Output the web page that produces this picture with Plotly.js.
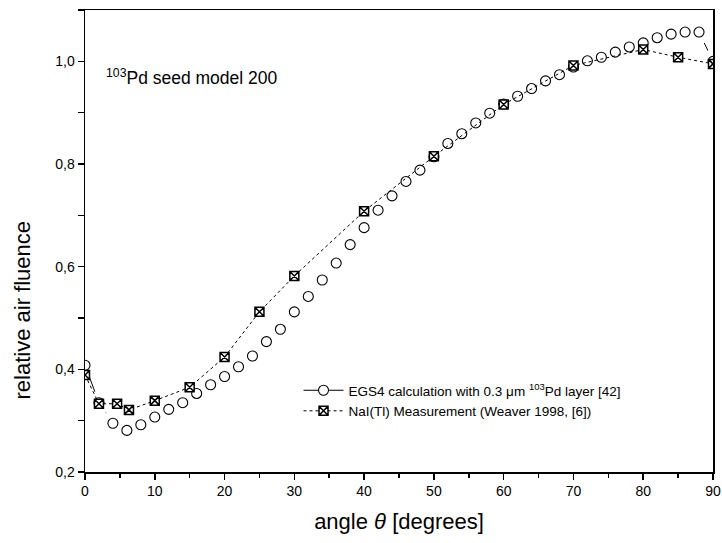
<!DOCTYPE html>
<html>
<head>
<meta charset="utf-8">
<script src="https://cdn.plot.ly/plotly-3.0.1.min.js"></script>
<style>
  html, body { margin: 0; padding: 0; background: #ffffff; }
  #chart { width: 722px; height: 543px; }
</style>
</head>
<body>
<div id="chart"></div>
<script>
// EGS4 calculation (circles), every 2 degrees
const egsAngle = [0, 2, 4, 6, 8, 10, 12, 14, 16, 18, 20, 22, 24, 26, 28, 30, 32, 34, 36, 38,
                  40, 42, 44, 46, 48, 50, 52, 54, 56, 58, 60, 62, 64, 66, 68, 70, 72, 74, 76, 78,
                  80, 82, 84, 86, 88, 90];
const egsValue = [0.408, 0.335, 0.295, 0.281, 0.292, 0.307, 0.322, 0.335, 0.353, 0.370,
                  0.386, 0.405, 0.426, 0.454, 0.478, 0.512, 0.542, 0.574, 0.607, 0.643,
                  0.676, 0.710, 0.738, 0.766, 0.788, 0.814, 0.840, 0.859, 0.880, 0.899,
                  0.917, 0.932, 0.947, 0.962, 0.974, 0.989, 1.001, 1.008, 1.018, 1.028,
                  1.036, 1.046, 1.053, 1.057, 1.057, 1.000];

// NaI(Tl) measurement (squares)
const naiAngle = [0, 2, 4.6, 6.3, 10, 15, 20, 25, 30, 40, 50, 60, 70, 80, 85, 90];
const naiValue = [0.389, 0.333, 0.333, 0.321, 0.339, 0.365, 0.424, 0.512, 0.582, 0.708,
                  0.815, 0.916, 0.992, 1.023, 1.008, 0.995];

const egsName = 'EGS4 calculation with 0.3 \u03bcm <sup>103</sup>Pd layer [42]';
const naiName = 'NaI(Tl) Measurement (Weaver 1998, [6])';
const annText = '<sup>103</sup>Pd seed model 200';
const xTitle = 'angle <i>\u03b8</i> [degrees]';
const yTitle = 'relative air fluence';

const FONT = 'Liberation Sans, Arial, Helvetica, sans-serif';

const traces = [
  { // EGS4 line (legend entry)
    x: egsAngle, y: egsValue, name: egsName, type: 'scatter', mode: 'lines+markers',
    line: { color: '#000000', width: 1 },
    marker: { symbol: 'circle', size: 10, color: '#ffffff', line: { color: '#000000', width: 1.1 } },
    hoverinfo: 'skip'
  },
  { // white gaps around the symbols (line gap)
    x: egsAngle, y: egsValue, type: 'scatter', mode: 'markers', showlegend: false,
    marker: { symbol: 'circle', size: 24, color: '#ffffff', line: { width: 0 } },
    hoverinfo: 'skip'
  },
  { // EGS4 symbols
    x: egsAngle, y: egsValue, type: 'scatter', mode: 'markers', showlegend: false,
    marker: { symbol: 'circle', size: 10, color: '#ffffff', line: { color: '#000000', width: 1.1 } },
    hoverinfo: 'skip'
  },
  { // NaI measurement
    x: naiAngle, y: naiValue, name: naiName, type: 'scatter', mode: 'lines+markers',
    line: { color: '#000000', width: 1, dash: 'dot' },
    marker: { symbol: 'square-x', size: 9, color: '#ffffff', line: { color: '#000000', width: 1.5 } },
    hoverinfo: 'skip'
  }
];

const layout = {
  width: 722, height: 543,
  margin: { l: 85, r: 9, t: 10, b: 71 },
  paper_bgcolor: '#ffffff', plot_bgcolor: '#ffffff',
  separators: ', ',
  font: { family: FONT, color: '#000000', size: 14 },
  showlegend: true,
  legend: {
    x: 0.34, y: 0.21, xanchor: 'left', yanchor: 'top',
    bgcolor: 'rgba(0,0,0,0)', borderwidth: 0,
    font: { family: FONT, size: 13.5, color: '#000000' },
    tracegroupgap: 0, itemwidth: 40
  },
  xaxis: {
    range: [0, 90], tick0: 0, dtick: 10, ticks: 'outside', ticklen: 6, tickwidth: 1.5,
    tickcolor: '#000000', showline: true, linewidth: 1.5, linecolor: '#000000', mirror: true,
    showgrid: false, zeroline: false,
    minor: { dtick: 5, ticks: 'outside', ticklen: 4, tickwidth: 1.5, tickcolor: '#000000', showgrid: false },
    tickfont: { family: FONT, size: 14 },
    title: { text: xTitle, font: { family: FONT, size: 22 }, standoff: 15 }
  },
  yaxis: {
    range: [0.2, 1.1], tick0: 0.2, dtick: 0.2, tickformat: '.1f', ticks: 'outside', ticklen: 6, tickwidth: 1.5,
    tickcolor: '#000000', showline: true, linewidth: 1.5, linecolor: '#000000', mirror: true,
    showgrid: false, zeroline: false,
    minor: { dtick: 0.1, ticks: 'outside', ticklen: 6, tickwidth: 1.5, tickcolor: '#000000', showgrid: false },
    tickfont: { family: FONT, size: 14 }
  },
  xaxis2: {
    overlaying: 'x', side: 'top', anchor: 'y', range: [0, 90], tick0: 0, dtick: 10,
    ticks: 'inside', ticklen: 6, tickwidth: 1.5, tickcolor: '#000000',
    minor: { dtick: 5, ticks: 'inside', ticklen: 6, tickwidth: 1.5, tickcolor: '#000000', showgrid: false },
    showticklabels: false, showline: false, showgrid: false, zeroline: false
  },
  yaxis2: {
    overlaying: 'y', side: 'right', anchor: 'x', range: [0.2, 1.1], tick0: 0.2, dtick: 0.2,
    ticks: 'inside', ticklen: 6, tickwidth: 1.5, tickcolor: '#000000',
    minor: { dtick: 0.1, ticks: 'inside', ticklen: 6, tickwidth: 1.5, tickcolor: '#000000', showgrid: false },
    showticklabels: false, showline: false, showgrid: false, zeroline: false
  },
  annotations: [
    {
      text: annText, xref: 'paper', yref: 'paper', x: 0.03, y: 0.855,
      xanchor: 'left', yanchor: 'middle', showarrow: false,
      font: { family: FONT, size: 17.5, color: '#000000' }
    },
    {
      text: yTitle, xref: 'paper', yref: 'paper', x: -0.1, y: 0.35,
      xanchor: 'center', yanchor: 'middle', textangle: -90, showarrow: false,
      font: { family: FONT, size: 22, color: '#000000' }
    }
  ]
};

Plotly.newPlot('chart', traces, layout, { displayModeBar: false, staticPlot: true });
</script>
</body>
</html>
